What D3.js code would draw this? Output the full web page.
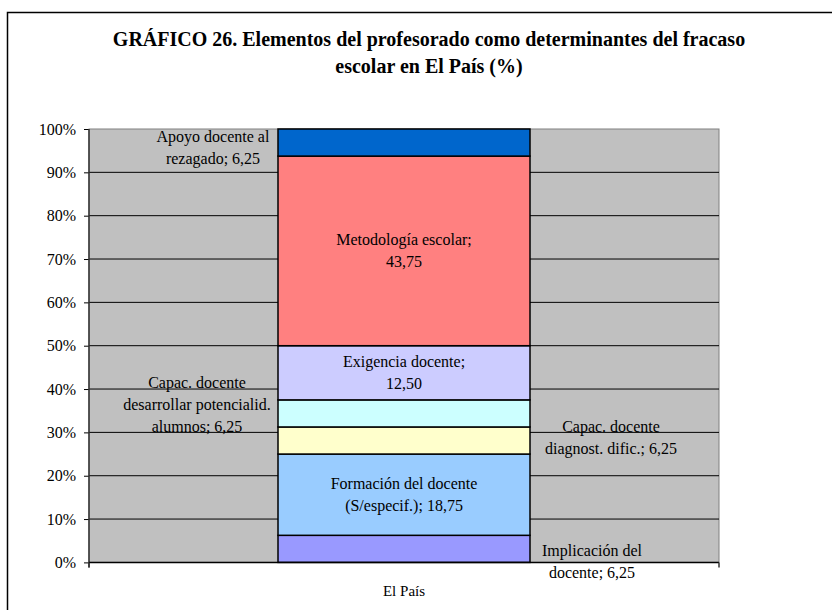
<!DOCTYPE html>
<html>
<head>
<meta charset="utf-8">
<script src="https://cdn.jsdelivr.net/npm/d3@7"></script>
</head>
<body style="margin:0">
<svg id="fig" width="832" height="610" font-family="Liberation Serif"></svg>
<script>
// data
const categories = ["El País"];
const seriesNames = [
  "Implicación del docente",
  "Formación del docente (S/especif.)",
  "Capac. docente diagnost. dific.",
  "Capac. docente desarrollar potencialid. alumnos",
  "Exigencia docente",
  "Metodología escolar",
  "Apoyo docente al rezagado"
];
const seriesValues = [6.25, 18.75, 6.25, 6.25, 12.50, 43.75, 6.25];
const seriesColors = ["#9999FF", "#99CCFF", "#FFFFCC", "#CCFFFF", "#CCCCFF", "#FF8080", "#0066CC"];
// label text as wrapped in the picture, {v} = value
const labelLines = [
  ["Implicación del", "docente; {v}"],
  ["Formación del docente", "(S/especif.); {v}"],
  ["Capac. docente", "diagnost. dific.; {v}"],
  ["Capac. docente", "desarrollar potencialid.", "alumnos; {v}"],
  ["Exigencia docente;", "{v}"],
  ["Metodología escolar;", "{v}"],
  ["Apoyo docente al", "rezagado; {v}"]
];
const yTicks = [0, 10, 20, 30, 40, 50, 60, 70, 80, 90, 100];
const titleLines = [
  "GRÁFICO 26. Elementos del profesorado como determinantes del fracaso",
  "escolar en El País (%)"
];

const FONT = "font-family:'Liberation Serif';";
const width = 832, height = 610;
const margin = { top: 129, left: 89, right: 113, bottom: 47.6 };
const innerW = width - margin.left - margin.right;
const innerH = height - margin.top - margin.bottom;

const esLocale = d3.formatLocale({ decimal: ",", thousands: ".", grouping: [3], currency: ["", "€"] });
const fmt = esLocale.format(".2f");

const svg = d3.select("#fig");

// chart frame
svg.append("rect")
  .attr("x", 7.5).attr("y", 12.5)
  .attr("width", 900).attr("height", 700)
  .attr("fill", "#fff").attr("stroke", "#000").attr("stroke-width", 1.5);

// title
svg.append("g").selectAll("text")
  .data(titleLines)
  .enter().append("text")
  .attr("x", 429)
  .attr("y", (d, i) => 46 + i * 27)
  .attr("text-anchor", "middle")
  .attr("style", FONT + "font-size:20px;font-weight:bold")
  .text(d => d);

const g = svg.append("g")
  .attr("transform", "translate(" + margin.left + "," + margin.top + ")");

// Scales
const x = d3.scaleBand().domain(categories).range([0, innerW]).paddingInner(0.6).paddingOuter(0.3);
const y = d3.scaleLinear().domain([0, 100]).range([innerH, 0]);

// plot area
g.append("rect")
  .attr("width", innerW).attr("height", innerH)
  .attr("fill", "#C0C0C0").attr("stroke", "#808080").attr("stroke-width", 1);

// gridlines
g.append("g").selectAll("line")
  .data(yTicks.filter(t => t > 0 && t < 100))
  .enter().append("line")
  .attr("x1", 0).attr("x2", innerW)
  .attr("y1", d => y(d)).attr("y2", d => y(d))
  .attr("stroke", "#000").attr("stroke-width", 1);

// stacked bar
const row = {};
seriesNames.forEach((n, i) => { row[n] = seriesValues[i]; });
row.cat = categories[0];
const stacked = d3.stack().keys(seriesNames)([row]);

g.append("g").selectAll("rect")
  .data(stacked)
  .enter().append("rect")
  .attr("x", d => x(d[0].data.cat))
  .attr("width", x.bandwidth())
  .attr("y", d => y(d[0][1]))
  .attr("height", d => y(d[0][0]) - y(d[0][1]))
  .attr("fill", (d, i) => seriesColors[i])
  .attr("stroke", "#000").attr("stroke-width", 1.5);

// Axis
const yAxis = d3.axisLeft(y).tickValues(yTicks).tickSize(5).tickPadding(8).tickFormat(d => d + "%");
const ya = g.append("g").call(yAxis).attr("font-family", "Liberation Serif");
ya.select(".domain").remove();
ya.selectAll(".tick line").attr("stroke", "#000");
ya.selectAll("text").attr("style", FONT + "font-size:16px");
g.append("line")
  .attr("x1", 0).attr("x2", 0).attr("y1", 0).attr("y2", innerH + 5)
  .attr("stroke", "#333").attr("stroke-width", 1.5);

const xAxis = d3.axisBottom(x).tickSize(0).tickPadding(23);
const xa = g.append("g").attr("transform", "translate(0," + innerH + ")").call(xAxis).attr("font-family", "Liberation Serif");
xa.select(".domain").remove();
xa.selectAll("text").attr("style", FONT + "font-size:15px");
g.append("line")
  .attr("x1", 0).attr("x2", innerW).attr("y1", innerH).attr("y2", innerH)
  .attr("stroke", "#000").attr("stroke-width", 1.5);
g.append("g").selectAll("line")
  .data(x.range())
  .enter().append("line")
  .attr("x1", d => d).attr("x2", d => d)
  .attr("y1", innerH).attr("y2", innerH + 5)
  .attr("stroke", "#333").attr("stroke-width", 1.5);

// data labels (some were moved beside the bar in the original)
const labelPlace = [
  { side: "right", dx: 62, dy: 13 },
  { side: "in", dx: 0, dy: 0 },
  { side: "right", dx: 81, dy: -3 },
  { side: "left", dx: -81, dy: -8 },
  { side: "in", dx: 0, dy: 0 },
  { side: "in", dx: 0, dy: 0 },
  { side: "left", dx: -65, dy: 5 }
];
const lineH = 22;
const labels = g.append("g");
stacked.forEach((s, i) => {
  const p = labelPlace[i];
  const bx = x(s[0].data.cat);
  let cx = bx + x.bandwidth() / 2;
  if (p.side === "left") cx = bx + p.dx;
  if (p.side === "right") cx = bx + x.bandwidth() + p.dx;
  const cy = (y(s[0][0]) + y(s[0][1])) / 2 + p.dy;
  const lines = labelLines[i].map(l => l.replace("{v}", fmt(seriesValues[i])));
  const t = labels.append("text")
    .attr("text-anchor", "middle")
    .attr("style", FONT + "font-size:16px");
  lines.forEach((l, j) => {
    t.append("tspan")
      .attr("x", cx)
      .attr("y", cy + 5 + (j - (lines.length - 1) / 2) * lineH)
      .text(l);
  });
});
</script>
</body>
</html>
